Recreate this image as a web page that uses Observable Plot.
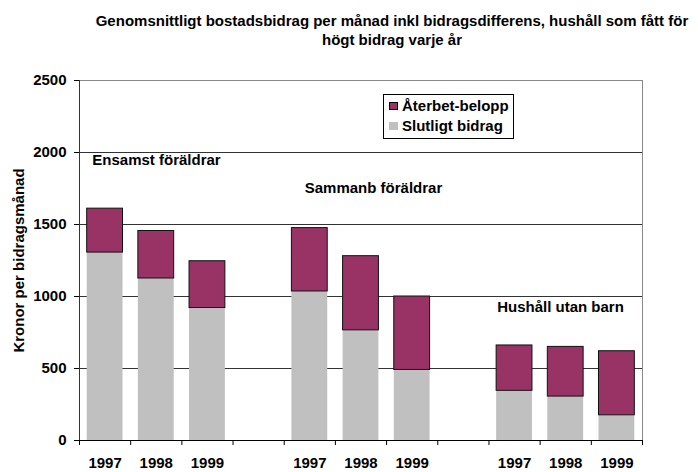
<!DOCTYPE html>
<html><head><meta charset="utf-8">
<script src="https://cdn.jsdelivr.net/npm/d3@7"></script>
<script src="https://cdn.jsdelivr.net/npm/@observablehq/plot@0.6"></script>
<style>
body{margin:0;background:#fff;font-family:"Liberation Sans",Arial,sans-serif;}
#wrap{position:relative;width:698px;height:472px;overflow:hidden;background:#fff;}
.t{position:absolute;left:43px;width:698px;text-align:center;font-weight:bold;font-size:15px;white-space:nowrap;line-height:18px;color:#000;}
#legend{position:absolute;left:383px;top:94px;width:129px;height:43px;border:1px solid #000;background:#fff;font-weight:bold;font-size:15px;color:#000;}
.row{position:absolute;left:0;height:18px;line-height:18px;white-space:nowrap;}
.sw{position:absolute;left:5px;top:5px;width:9px;height:8px;box-sizing:border-box;}
.lab{position:absolute;left:18px;top:0;}
</style></head>
<body>
<div id="wrap"></div>
<script>
// ---- data ----
const groups = ["Ensamst föräldrar", "Sammanb föräldrar", "Hushåll utan barn"];
const years = ["1997", "1998", "1999"];
const slutligt = [1305, 1125, 920, 1035, 765, 490, 345, 305, 175];
const aterbet = [305, 330, 325, 440, 515, 510, 315, 345, 445];
const yTicks = [0, 500, 1000, 1500, 2000, 2500];
const seriesNames = ["Återbet-belopp", "Slutligt bidrag"];
const titleLines = ["Genomsnittligt bostadsbidrag per månad inkl bidragsdifferens, hushåll som fått för", "högt bidrag varje år"];
const yLabel = "Kronor per bidragsmånad";

// ---- layout / styles ----
const colors = {ater: "#993366", slut: "#c0c0c0"};
const groupLabelPos = [{x: 0.25, y: 1944}, {x: 4.40, y: 1750}, {x: 8.16, y: 926}];

const rows = slutligt.map((s, i) => {
  const g = Math.floor(i / 3), j = i % 3;
  return {slot: g * 4 + j, year: years[j], group: groups[g], slut: s, total: s + aterbet[i]};
});
const gl = groups.map((g, i) => ({label: g, ...groupLabelPos[i]}));

const chart = Plot.plot({
  width: 698, height: 472,
  marginTop: 80, marginBottom: 32, marginLeft: 79, marginRight: 56,
  x: {domain: [0, 11]},
  y: {domain: [0, 2500]},
  style: {fontFamily: "'Liberation Sans', Arial, sans-serif", fontSize: "15px", fontWeight: "bold", color: "#000", background: "transparent"},
  marks: [
    Plot.ruleY(yTicks.filter(v => v > 0 && v < 2500), {stroke: "#333", strokeWidth: 1}),
    Plot.ruleY([2500], {stroke: "#888"}),
    Plot.ruleX([11], {stroke: "#888"}),
    Plot.rect(rows, {x1: d => d.slot + 0.15, x2: d => d.slot + 0.85, y1: 0, y2: "slut", fill: colors.slut}),
    Plot.rect(rows, {x1: d => d.slot + 0.15, x2: d => d.slot + 0.85, y1: "slut", y2: "total", fill: colors.ater, stroke: "#111", strokeWidth: 1}),
    Plot.ruleX([0], {stroke: "#333"}),
    Plot.ruleY([0], {stroke: "#000"}),
    Plot.axisY(yTicks, {tickSize: 5, tickPadding: 8, tickFormat: d => String(d), fontSize: 15, fontWeight: "bold", label: null, stroke: "#000"}),
    Plot.axisX(d3.range(0, 12), {tickSize: 5, tickFormat: () => "", label: null, stroke: "#000"}),
    Plot.text(rows, {x: d => d.slot + 0.5, y: 0, text: "year", dy: 23, fontSize: 15, fontWeight: "bold", fill: "#000"}),
    Plot.text(gl, {x: "x", y: "y", text: "label", textAnchor: "start", fontSize: 15, fontWeight: "bold", fill: "#000"}),
    Plot.text([yLabel], {frameAnchor: "left", textAnchor: "middle", rotate: -90, dx: -60.5, fontSize: 15, fontWeight: "bold", fill: "#000"})
  ]
});

const wrap = document.getElementById("wrap");
wrap.appendChild(chart);

titleLines.forEach((t, i) => {
  const d = document.createElement("div");
  d.className = "t";
  d.style.top = (12 + i * 19) + "px";
  d.textContent = t;
  wrap.appendChild(d);
});

const leg = document.createElement("div");
leg.id = "legend";
const legColors = [colors.ater, colors.slut];
seriesNames.forEach((n, i) => {
  const r = document.createElement("div");
  r.className = "row";
  r.style.top = (2 + i * 20) + "px";
  const sw = document.createElement("div");
  sw.className = "sw";
  sw.style.background = legColors[i];
  if (i === 0) sw.style.border = "1px solid #000";
  const lab = document.createElement("div");
  lab.className = "lab";
  lab.textContent = n;
  r.appendChild(sw); r.appendChild(lab);
  leg.appendChild(r);
});
wrap.appendChild(leg);
</script>
</body></html>
